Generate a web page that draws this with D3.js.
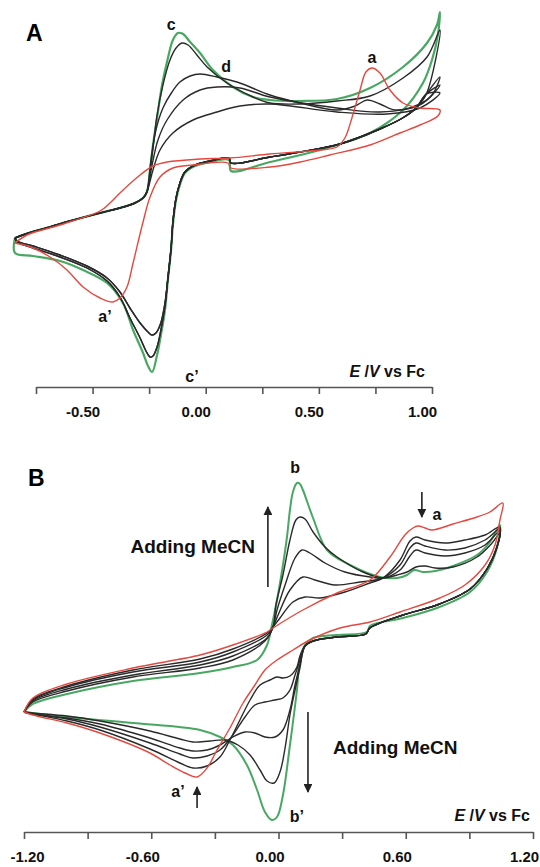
<!DOCTYPE html>
<html>
<head>
<meta charset="utf-8">
<script src="https://cdn.jsdelivr.net/npm/d3@7"></script>
<style>
  body { margin: 0; background: #fff; }
  text { font-family: "Liberation Sans", Arial, sans-serif; }
</style>
</head>
<body>
<script>
// Panel A data: [E (V vs Fc), current (a.u.)]
// ==============================
var aTicks = [-0.75, -0.5, -0.25, 0, 0.25, 0.5, 0.75, 1.0];
var aTickLabels = [-0.5, 0, 0.5, 1.0];

var aFwdStart = [[-0.843,0.2],[-0.821,0.4],[-0.754,0.9],[-0.688,1.3],[-0.600,1.9],[-0.467,2.7],[-0.379,3.2],[-0.313,3.7],[-0.277,4.2],[-0.260,4.8]];

var aGreenFwd = [[-0.246,7.0],[-0.233,9.5],[-0.215,12.2],[-0.193,15.5],[-0.167,18.2],[-0.145,20.0],[-0.123,20.7],[-0.100,20.6],[-0.069,19.8],[-0.025,18.7],[0.032,17.0],[0.120,15.3],[0.209,14.3],[0.284,14.0],[0.417,13.9],[0.580,14.1],[0.726,15.2],[0.872,17.3],[0.978,19.7],[1.022,21.5],[1.035,22.8]];
var aGreenRev = [[1.026,20.5],[1.000,18.0],[0.960,15.7],[0.872,13.0],[0.726,10.7],[0.505,9.0],[0.284,7.8],[0.112,6.9],[0.103,8.0],[0.019,7.8],[-0.047,7.4],[-0.092,6.7],[-0.114,5.5],[-0.131,4.0],[-0.145,1.5],[-0.153,-1.0],[-0.167,-4.0],[-0.180,-7.0],[-0.198,-9.5],[-0.215,-11.5],[-0.237,-13.2],[-0.255,-12.6],[-0.277,-11.3],[-0.321,-9.0],[-0.366,-6.3],[-0.436,-4.3],[-0.542,-3.0],[-0.644,-2.1],[-0.763,-1.6],[-0.843,-1.3],[-0.843,0.2]];

var aBlack1Fwd = [[-0.246,6.8],[-0.233,9.2],[-0.215,12.5],[-0.189,15.5],[-0.158,18.0],[-0.131,19.2],[-0.105,19.7],[-0.078,19.5],[-0.039,18.5],[0.006,17.3],[0.094,15.7],[0.209,14.3],[0.284,13.7],[0.417,13.6],[0.580,13.9],[0.726,14.4],[0.872,16.2],[0.978,18.3],[1.035,21.0]];
var aBlack2Fwd = [[-0.242,8.0],[-0.220,11.0],[-0.189,13.2],[-0.149,14.8],[-0.114,15.8],[-0.069,16.4],[-0.025,16.6],[0.050,16.3],[0.138,15.8],[0.284,14.5],[0.417,13.7],[0.580,13.0],[0.660,13.4],[0.713,14.0],[0.770,13.6],[0.836,13.0],[0.947,13.6],[1.000,14.5],[1.035,16.3]];
var aBlack3Fwd = [[-0.237,7.5],[-0.211,10.0],[-0.171,12.0],[-0.100,14.0],[-0.025,15.0],[0.050,15.3],[0.151,15.2],[0.284,14.3],[0.580,13.2],[0.770,12.8],[0.947,13.5],[1.035,15.5]];
var aBlack4Fwd = [[-0.233,7.0],[-0.202,9.0],[-0.145,10.7],[-0.056,12.0],[0.050,12.8],[0.151,13.4],[0.284,13.6],[0.580,12.8],[0.801,12.6],[0.947,13.2],[1.035,14.7]];
var aBlackRev = [[0.975,14.6],[0.930,13.2],[0.870,12.2],[0.770,11.1],[0.593,9.6],[0.417,8.8],[0.284,8.3],[0.112,7.7],[0.103,8.2],[0.019,7.9],[-0.047,7.5],[-0.092,6.8],[-0.114,5.7],[-0.131,4.2],[-0.145,1.8],[-0.153,-0.8],[-0.167,-3.8]];
var aBlackMinDeep = [[-0.180,-6.6],[-0.198,-9.0],[-0.215,-10.7],[-0.233,-11.6],[-0.246,-11.7],[-0.264,-11.1],[-0.290,-9.8],[-0.335,-7.8],[-0.379,-5.7],[-0.436,-4.1],[-0.525,-2.8],[-0.644,-1.7],[-0.763,-0.8],[-0.834,-0.2],[-0.843,0.2]];
var aBlackMinShallow = [[-0.180,-6.3],[-0.200,-8.4],[-0.220,-9.3],[-0.237,-9.5],[-0.255,-9.2],[-0.290,-8.3],[-0.335,-6.8],[-0.379,-5.2],[-0.436,-3.8],[-0.525,-2.6],[-0.644,-1.5],[-0.763,-0.6],[-0.834,-0.1],[-0.843,0.2]];

var aRed = [[-0.843,-0.3],[-0.790,0.5],[-0.644,1.5],[-0.467,2.9],[-0.423,3.7],[-0.379,4.7],[-0.290,6.5],[-0.233,7.4],[-0.171,7.8],[-0.025,8.1],[0.107,8.2],[0.284,8.6],[0.505,9.0],[0.580,9.3],[0.615,10.2],[0.646,12.2],[0.682,15.0],[0.708,16.8],[0.735,17.2],[0.770,16.7],[0.814,15.0],[0.872,13.7],[0.947,13.2],[1.035,13.0],[1.026,12.4],[0.947,11.5],[0.858,10.7],[0.726,9.5],[0.549,8.5],[0.417,7.8],[0.284,7.3],[0.112,7.2],[0.098,7.7],[-0.056,7.5],[-0.145,7.2],[-0.202,6.3],[-0.246,4.3],[-0.277,1.8],[-0.321,-2.3],[-0.348,-4.7],[-0.379,-5.8],[-0.410,-6.2],[-0.467,-5.8],[-0.542,-4.7],[-0.613,-3.0],[-0.688,-1.7],[-0.763,-0.8],[-0.843,-0.3]];

var aNotes = [
  {t: "c", e: -0.153, i: 21.0},
  {t: "d", e: 0.090, i: 16.8},
  {t: "a", e: 0.735, i: 17.7},
  {t: "a\u2019", e: -0.445, i: -8.2},
  {t: "c\u2019", e: -0.061, i: -14.2}
];

// Panel B data
// ==============================
var bTicks = [-1.2, -0.9, -0.6, -0.3, 0, 0.3, 0.6, 0.9, 1.2];
var bTickLabels = [-1.2, -0.6, 0, 0.6, 1.2];

var bRed = [[-1.200,-1.2],[-1.158,0.2],[-0.997,1.6],[-0.686,3.2],[-0.370,4.5],[-0.215,5.5],[-0.054,6.8],[-0.026,7.2],[0.115,9.0],[0.276,10.7],[0.431,12.0],[0.526,14.3],[0.596,16.5],[0.634,17.2],[0.658,17.4],[0.691,17.2],[0.724,17.0],[0.823,17.6],[0.936,18.3],[0.997,18.8],[1.058,19.7],[1.044,18.0],[1.021,15.5],[0.974,13.5],[0.879,11.5],[0.761,10.2],[0.573,8.8],[0.431,7.8],[0.290,7.2],[0.148,6.0],[0.068,5.0],[-0.007,4.0],[-0.064,3.0],[-0.111,1.5],[-0.167,-0.3],[-0.229,-2.8],[-0.290,-5.0],[-0.337,-6.8],[-0.384,-7.7],[-0.441,-7.3],[-0.512,-6.5],[-0.606,-5.3],[-0.842,-3.3],[-0.997,-2.3],[-1.158,-1.5],[-1.200,-1.2]];

var bGreen = [[-1.200,-1.2],[-1.158,-0.4],[-0.997,0.6],[-0.686,1.9],[-0.370,2.7],[-0.215,3.3],[-0.101,4.0],[-0.054,5.5],[-0.031,7.5],[-0.007,10.0],[0.021,13.5],[0.040,16.3],[0.054,19.0],[0.068,20.8],[0.087,21.7],[0.101,21.6],[0.115,21.0],[0.163,18.2],[0.229,15.0],[0.337,13.5],[0.478,12.3],[0.559,12.2],[0.606,12.5],[0.640,13.0],[0.680,12.8],[0.740,12.9],[0.823,13.4],[0.936,14.5],[0.997,15.8],[1.044,17.5],[1.030,15.2],[0.983,12.8],[0.903,10.8],[0.747,9.2],[0.587,8.2],[0.431,7.4],[0.417,6.8],[0.276,6.5],[0.163,6.2],[0.125,5.5],[0.101,4.0],[0.087,1.0],[0.054,-4.5],[0.021,-9.5],[-0.007,-11.7],[-0.031,-12.0],[-0.064,-11.2],[-0.101,-9.0],[-0.149,-6.5],[-0.215,-4.5],[-0.276,-3.7],[-0.370,-3.0],[-0.686,-2.3],[-0.997,-1.7],[-1.200,-1.2]];

var bK1Fwd = [[-1.200,-1.2],[-1.158,0.1],[-0.997,1.4],[-0.686,3.0],[-0.370,4.1],[-0.215,5.1],[-0.054,6.7],[-0.026,7.3],[0.007,8.2],[0.068,9.8],[0.125,10.3],[0.196,10.2],[0.313,10.8],[0.431,11.7],[0.493,12.2],[0.573,14.0],[0.620,15.9],[0.648,16.3],[0.691,16.0],[0.785,15.7],[0.879,16.0],[0.974,16.5],[1.044,17.3]];
var bK2Fwd = [[-1.200,-1.2],[-1.158,0.0],[-0.997,1.3],[-0.686,2.8],[-0.370,3.8],[-0.215,4.8],[-0.054,6.5],[-0.026,7.3],[-0.002,8.5],[0.054,11.0],[0.115,12.3],[0.172,12.0],[0.266,11.5],[0.384,11.8],[0.493,12.2],[0.573,13.5],[0.620,15.2],[0.648,15.7],[0.691,15.4],[0.785,15.0],[0.879,15.2],[0.974,16.0],[1.044,17.1]];
var bK3Fwd = [[-1.200,-1.2],[-1.158,-0.1],[-0.997,1.1],[-0.686,2.5],[-0.370,3.5],[-0.215,4.4],[-0.054,6.2],[-0.026,7.3],[-0.007,9.0],[0.031,11.5],[0.078,14.2],[0.111,15.0],[0.148,14.7],[0.219,13.7],[0.313,12.8],[0.431,12.3],[0.493,12.2],[0.573,13.0],[0.620,14.4],[0.648,15.0],[0.691,14.7],[0.785,14.4],[0.879,14.7],[0.974,15.5],[1.044,16.9]];
var bK4Fwd = [[-1.200,-1.2],[-1.158,-0.2],[-0.997,0.9],[-0.686,2.3],[-0.370,3.2],[-0.215,4.0],[-0.064,5.9],[-0.026,7.3],[-0.012,9.5],[0.021,12.5],[0.054,16.0],[0.082,18.0],[0.101,18.3],[0.125,18.1],[0.163,16.8],[0.219,15.3],[0.276,14.3],[0.398,12.8],[0.493,12.2],[0.559,12.5],[0.606,12.8],[0.648,13.3],[0.691,13.4],[0.738,13.2],[0.823,13.3],[0.936,14.3],[1.007,15.7],[1.044,16.7]];
var bBlackRev = [[1.030,15.3],[0.983,13.1],[0.903,11.1],[0.747,9.5],[0.587,8.5],[0.431,7.2],[0.412,6.6],[0.276,6.3],[0.163,5.9],[0.125,5.4]];
var bK1Rev = [[0.101,4.4],[0.087,3.3],[0.054,2.4],[0.021,2.2],[-0.007,2.3],[-0.040,2.0],[-0.087,1.5],[-0.134,0.0],[-0.182,-2.0],[-0.229,-4.0],[-0.276,-5.7],[-0.337,-6.6],[-0.403,-6.8],[-0.465,-6.3],[-0.606,-4.9],[-0.842,-3.0],[-0.997,-2.1],[-1.158,-1.4],[-1.200,-1.2]];
var bK2Rev = [[0.101,4.0],[0.078,2.5],[0.054,1.0],[0.021,0.2],[-0.017,0.0],[-0.064,-0.2],[-0.111,-0.5],[-0.158,-1.7],[-0.215,-3.5],[-0.276,-5.0],[-0.337,-5.6],[-0.403,-5.8],[-0.465,-5.4],[-0.606,-4.3],[-0.842,-2.7],[-0.997,-1.9],[-1.158,-1.4],[-1.200,-1.2]];
var bK3Rev = [[0.101,3.5],[0.078,1.5],[0.054,-1.0],[0.021,-3.0],[-0.017,-3.7],[-0.064,-3.7],[-0.111,-3.3],[-0.158,-3.2],[-0.215,-3.7],[-0.276,-4.5],[-0.337,-5.0],[-0.403,-5.1],[-0.465,-4.8],[-0.606,-3.8],[-0.842,-2.4],[-0.997,-1.8],[-1.158,-1.4],[-1.200,-1.2]];
var bK4Rev = [[0.101,3.2],[0.078,1.0],[0.054,-1.5],[0.031,-4.8],[0.007,-7.2],[-0.021,-8.3],[-0.054,-8.1],[-0.087,-7.0],[-0.134,-5.5],[-0.191,-4.5],[-0.252,-4.0],[-0.323,-4.1],[-0.403,-4.2],[-0.465,-3.9],[-0.606,-3.1],[-0.842,-2.1],[-0.997,-1.6],[-1.158,-1.3],[-1.200,-1.2]];

var bNotes = [
  {t: "b", e: 0.078, i: 22.7},
  {t: "a", e: 0.747, i: 18.0},
  {t: "a\u2019", e: -0.474, i: -9.7},
  {t: "b\u2019", e: 0.087, i: -12.2}
];
// arrows: [E, i from, i to]
var bArrows = [[-0.050, 11.3, 19.3], [0.139, -1.2, -9.2], [0.676, 20.8, 18.3], [-0.384, -10.8, -8.7]];

// Colours
var colGreen = "#48a862";
var colRed = "#e5483e";
var colBlack = "#2a2a2a";

// Step 1: svg
// ==============================
var svg = d3.select("body")
  .append("svg")
  .attr("width", 540)
  .attr("height", 867);

svg.append("defs").append("marker")
  .attr("id", "head")
  .attr("viewBox", "0 0 10 10")
  .attr("refX", 9).attr("refY", 5)
  .attr("markerWidth", 5.5).attr("markerHeight", 5.5)
  .attr("orient", "auto")
  .append("path")
  .attr("d", "M0,0L10,5L0,10z")
  .attr("fill", "#222");

// Step 2: scales
// ==============================
var xA = d3.scaleLinear().domain([-0.75, 1.0]).range([36, 432]);
var yA = d3.scaleLinear().domain([-14, 24]).range([380, 0]);
var xB = d3.scaleLinear().domain([-1.2, 1.2]).range([24, 533]);
var yB = d3.scaleLinear().domain([-13, 24]).range([830, 460]);

function drawCurve(g, x, y, pts, color, w) {
  var line = d3.line()
    .x(d => x(d[0]))
    .y(d => y(d[1]))
    .curve(d3.curveCatmullRom.alpha(0.5));
  g.append("path")
    .attr("d", line(pts))
    .attr("fill", "none")
    .attr("stroke", color)
    .attr("stroke-width", w)
    .attr("stroke-linejoin", "round");
}

function drawAxis(x, yPos, ticks, labels, dxFn) {
  var axis = d3.axisBottom(x)
    .tickValues(ticks)
    .tickSize(7)
    .tickSizeOuter(0)
    .tickPadding(12)
    .tickFormat(d => labels.some(l => Math.abs(l - d) < 1e-9) ? d.toFixed(2) : "");
  var g = svg.append("g")
    .attr("transform", `translate(0, ${yPos})`)
    .call(axis);
  g.select(".domain").attr("stroke", "#555").attr("stroke-width", 1.6);
  g.selectAll(".tick line").attr("stroke", "#555").attr("stroke-width", 1.6);
  g.selectAll(".tick text")
    .attr("dx", dxFn)
    .attr("fill", "#111")
    .style("font-size", "15px")
    .style("font-weight", "bold")
    .style("font-family", "'Liberation Sans', Arial, sans-serif");
  return g;
}

function evLabel(xPos, yPos) {
  var t = svg.append("text")
    .attr("x", xPos).attr("y", yPos)
    .attr("text-anchor", "end")
    .style("font-size", "16px").style("font-weight", "bold")
    .attr("fill", "#111");
  t.append("tspan").style("font-style", "italic").text("E");
  t.append("tspan").text(" /");
  t.append("tspan").style("font-style", "italic").text("V");
  t.append("tspan").text(" vs Fc");
}

// Panel A
// ==============================
var gA = svg.append("g");
drawCurve(gA, xA, yA, aFwdStart.concat(aGreenFwd, aGreenRev), colGreen, 2.2);
drawCurve(gA, xA, yA, aFwdStart.concat(aBlack4Fwd, aBlackRev, aBlackMinShallow), colBlack, 1.4);
drawCurve(gA, xA, yA, aFwdStart.concat(aBlack3Fwd, aBlackRev, aBlackMinShallow), colBlack, 1.4);
drawCurve(gA, xA, yA, aFwdStart.concat(aBlack2Fwd, aBlackRev, aBlackMinDeep), colBlack, 1.4);
drawCurve(gA, xA, yA, aFwdStart.concat(aBlack1Fwd, aBlackRev, aBlackMinDeep), colBlack, 1.4);
drawCurve(gA, xA, yA, aRed, colRed, 1.4);

drawAxis(xA, 387, aTicks, aTickLabels, () => -10);

gA.selectAll(".note")
  .data(aNotes)
  .enter()
  .append("text")
  .attr("x", d => xA(d.e))
  .attr("y", d => yA(d.i))
  .attr("text-anchor", "middle")
  .style("font-size", "16px")
  .style("font-weight", "bold")
  .attr("fill", "#111")
  .text(d => d.t);

svg.append("text")
  .attr("x", 26).attr("y", 41)
  .style("font-size", "23px").style("font-weight", "bold")
  .text("A");

evLabel(425, 377);

// Panel B
// ==============================
var gB = svg.append("g");
drawCurve(gB, xB, yB, bGreen, colGreen, 2.0);
drawCurve(gB, xB, yB, bK1Fwd.concat(bBlackRev, bK1Rev), colBlack, 1.4);
drawCurve(gB, xB, yB, bK2Fwd.concat(bBlackRev, bK2Rev), colBlack, 1.4);
drawCurve(gB, xB, yB, bK3Fwd.concat(bBlackRev, bK3Rev), colBlack, 1.4);
drawCurve(gB, xB, yB, bK4Fwd.concat(bBlackRev, bK4Rev), colBlack, 1.4);
drawCurve(gB, xB, yB, bRed, colRed, 1.4);

drawAxis(xB, 832, bTicks, bTickLabels, d => (d < -1.1 ? 3 : -9));

gB.selectAll(".note")
  .data(bNotes)
  .enter()
  .append("text")
  .attr("x", d => xB(d.e))
  .attr("y", d => yB(d.i))
  .attr("text-anchor", "middle")
  .style("font-size", "16px")
  .style("font-weight", "bold")
  .attr("fill", "#111")
  .text(d => d.t);

gB.selectAll(".arrow")
  .data(bArrows)
  .enter()
  .append("line")
  .attr("x1", d => xB(d[0])).attr("x2", d => xB(d[0]))
  .attr("y1", d => yB(d[1])).attr("y2", d => yB(d[2]))
  .attr("stroke", "#222")
  .attr("stroke-width", 1.6)
  .attr("marker-end", "url(#head)");

gB.append("text")
  .attr("x", xB(-0.111)).attr("y", yB(14.7))
  .attr("text-anchor", "end")
  .style("font-size", "19px").style("font-weight", "bold")
  .attr("fill", "#111")
  .text("Adding MeCN");

gB.append("text")
  .attr("x", xB(0.257)).attr("y", yB(-5.4))
  .style("font-size", "19px").style("font-weight", "bold")
  .attr("fill", "#111")
  .text("Adding MeCN");

svg.append("text")
  .attr("x", 28).attr("y", 486)
  .style("font-size", "23px").style("font-weight", "bold")
  .text("B");

evLabel(530, 821);
</script>
</body>
</html>
